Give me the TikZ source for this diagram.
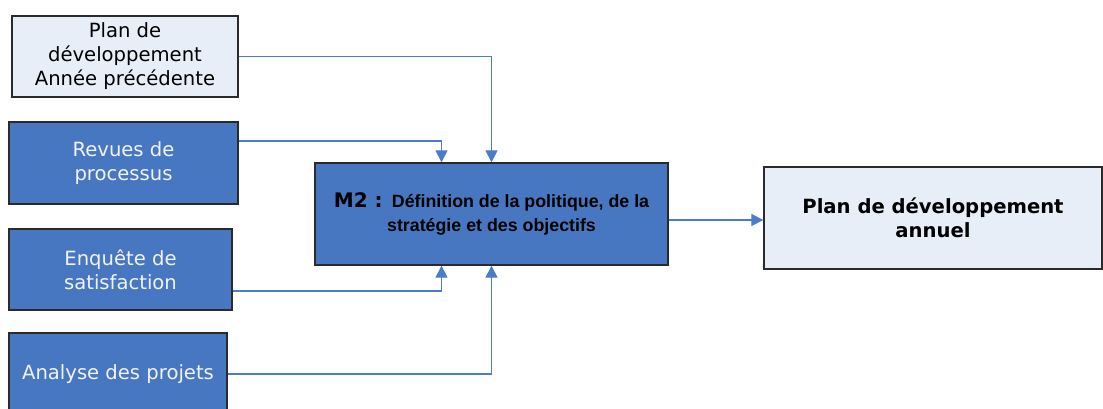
\documentclass[tikz,border=0pt]{standalone}
\usepackage{fontspec}
\setmainfont{DejaVu Sans}
\newfontfamily\arialfont{Liberation Sans}
\usetikzlibrary{arrows.meta}
\definecolor{boxblue}{HTML}{4777C0}
\definecolor{boxlight}{HTML}{E8EEF8}
\definecolor{linkblue}{HTML}{4A7DC9}
\definecolor{edgegrey}{HTML}{2A2A2A}
\definecolor{softwhite}{HTML}{F2F2F2}
\tikzset{
  base/.style={draw=edgegrey, line width=1.3pt, inner sep=0pt, align=center,
    font=\fontsize{19.6}{24}\selectfont},
  lightbox/.style={base, fill=boxlight, text=black},
  bluebox/.style={base, fill=boxblue, text=softwhite},
  arr/.style={draw=linkblue, line width=1.2pt, -{Triangle[width=12pt,length=12pt]}},
}
\begin{document}
\begin{tikzpicture}[x=1pt,y=-1pt]
\useasboundingbox (0,0) rectangle (1103,408);
\node[lightbox, minimum width=226pt, minimum height=81pt] (b1) at (125,56.5) {Plan de\\développement\\Année précédente};
\node[bluebox, minimum width=229pt, minimum height=82pt] (b2) at (123.5,163) {Revues de\\processus};
\node[bluebox, minimum width=223pt, minimum height=81pt] (b3) at (120.5,269.5) {Enquête de\\satisfaction};
\node[bluebox, minimum width=218pt, minimum height=82pt] (b4) at (118,374) {Analyse des projets};
\node[base, fill=boxblue, text=black, minimum width=353pt, minimum height=102pt] (m2) at (491.5,214)
  {\fontsize{20}{24}\selectfont\bfseries M2 : {\arialfont\fontsize{17.8}{24}\selectfont Définition de la politique, de la}\\
   {\arialfont\bfseries\fontsize{17.8}{24}\selectfont stratégie et des objectifs}};
\node[lightbox, minimum width=338pt, minimum height=102pt, font=\fontsize{19.6}{24}\selectfont\bfseries] (out) at (933,218) {Plan de développement\\annuel};
\draw[arr] (b1.east) -| (m2.north);
\draw[arr] ([yshift=22pt]b2.east) -| ([xshift=-50pt]m2.north);
\draw[arr] ([yshift=-21.5pt]b3.east) -| ([xshift=-50pt]m2.south);
\draw[arr] (b4.east) -| (m2.south);
\draw[arr] ([yshift=-6pt]m2.east) -- ([yshift=-6pt]m2.east -| out.west);
\end{tikzpicture}
\end{document}
